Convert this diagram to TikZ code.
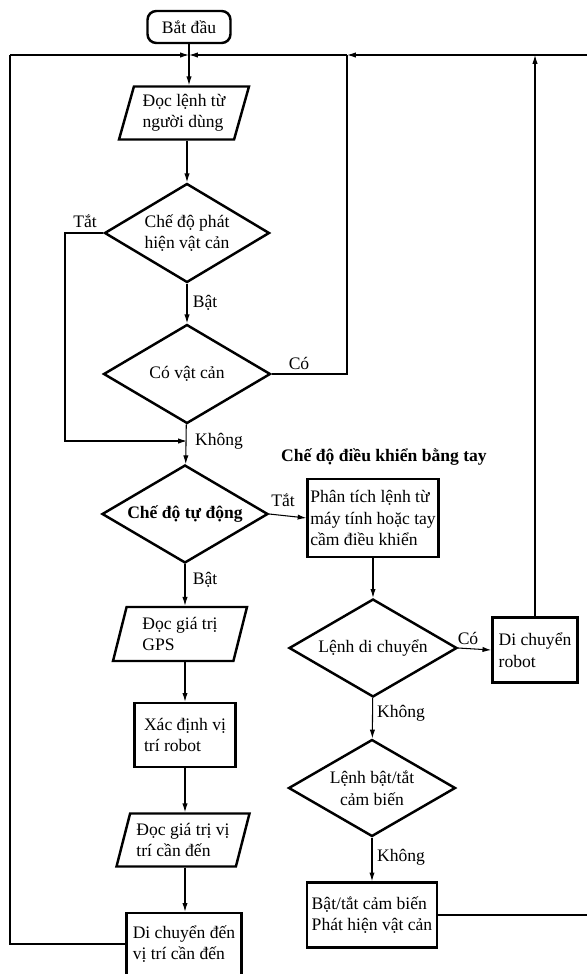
\documentclass[tikz,border=0pt]{standalone}
\usepackage{fontspec}
\setmainfont{Liberation Serif}
\usetikzlibrary{positioning,shapes.geometric,arrows.meta}

\tikzset{
  arr/.style={-{Latex[length=5pt,width=3pt]}},
  startbox/.style={draw, line width=1.4pt, rounded corners=5pt, minimum width=1.66cm, minimum height=0.64cm, inner sep=1pt},
  iobox/.style={draw, line width=1.4pt, trapezium, trapezium left angle=70, trapezium right angle=110, trapezium stretches body, align=left, inner sep=1pt},
  procbox/.style={draw, line width=1.4pt, rectangle, align=left, inner sep=1.5pt},
  decision/.style={draw, line width=1.4pt, diamond, aspect=1.7, align=center, inner sep=0pt},
  lbl/.style={inner sep=1pt}
}

\begin{document}
\begin{tikzpicture}[x=0.02cm, y=-0.02cm, line width=0.6pt, font=\fontsize{10}{12.2}\selectfont]
    \useasboundingbox (0,0) rectangle (587,974);

    % automatic branch
    \node[startbox] (start) at (189,27) {Bắt đầu};
    \node[iobox, minimum width=2.6cm, minimum height=1.06cm] (readcmd) at (184,113) {Đọc lệnh từ\\người dùng};
    \node[decision, minimum width=3.3cm, minimum height=1.98cm] (detect) at (187,233) {Chế độ phát\\hiện vật cản};
    \node[decision, minimum width=3.34cm, minimum height=1.98cm] (obstacle) at (187,374) {Có vật cản};
    \node[decision, minimum width=3.32cm, minimum height=1.96cm, font=\fontsize{10}{12.2}\selectfont\bfseries] (auto) at (185,514) {Chế độ tự động};
    \node[iobox, minimum width=2.68cm, minimum height=1.08cm] (gps) at (180,634) {Đọc giá trị\\GPS};
    \node[procbox, minimum width=2.02cm, minimum height=1.28cm] (locate) at (185,735) {Xác định vị\\trí robot};
    \node[iobox, minimum width=2.66cm, minimum height=1.06cm] (target) at (183,840) {Đọc giá trị vị\\trí cần đến};
    \node[procbox, minimum width=2.3cm, minimum height=1.24cm] (goto) at (184,944) {Di chuyển đến\\vị trí cần đến};

    % manual branch
    \node[font=\fontsize{10}{12.2}\selectfont\bfseries] (manual) at (384,457) {Chế độ điều khiển bằng tay};
    \node[procbox, minimum width=2.6cm, minimum height=1.56cm] (parse) at (373,518) {Phân tích lệnh từ\\máy tính hoặc tay\\cầm điều khiển};
    \node[decision, minimum width=3.36cm, minimum height=1.96cm] (movecmd) at (373,648) {Lệnh di chuyển};
    \node[procbox, minimum width=1.7cm, minimum height=1.3cm] (moverobot) at (535,650) {Di chuyển\\robot};
    \node[decision, minimum width=3.34cm, minimum height=1.94cm] (sensorcmd) at (372,788) {Lệnh bật/tắt\\cảm biến};
    \node[procbox, minimum width=2.6cm, minimum height=1.3cm] (sensor) at (372,915) {Bật/tắt cảm biến\\Phát hiện vật cản};

    % labels
    \node[lbl] (l1) at (85,221) {Tắt};
    \node[lbl] (l2) at (205,303) {Bật};
    \node[lbl] (l3) at (299,363) {Có};
    \node[lbl] (l4) at (219,441) {Không};
    \node[lbl] (l5) at (283,500) {Tắt};
    \node[lbl] (l6) at (205,580) {Bật};
    \node[lbl] (l7) at (468,638) {Có};
    \node[lbl] (l8) at (401,713) {Không};
    \node[lbl] (l9) at (401,857) {Không};

    % loop coordinates
    \coordinate (topL) at (10,55);
    \coordinate (topJ) at (189,55);
    \coordinate (topC) at (347,55);
    \coordinate (topR) at (587,55);
    \coordinate (tatL) at (65,441);
    \coordinate (noJ) at (187,441);

    % connectors
    \draw[arr] (start.south) -- (start.south |- readcmd.north);
    \draw[arr] (detect.north |- readcmd.south) -- (detect.north);
    \draw[arr] (detect) -- (obstacle);
    \draw[arr] (obstacle) -- (auto);
    \draw[arr] (detect.west) -| (tatL) -- (noJ);
    \draw (obstacle.east) -| (topC);
    \draw[arr] (auto.south) -- (auto.south |- gps.north);
    \draw[arr] (locate.north |- gps.south) -- (locate.north);
    \draw[arr] (locate.south) -- (locate.south |- target.north);
    \draw[arr] (locate.south |- target.south) -- (locate.south |- goto.north);
    \draw (goto.west) -| (topL);
    \draw[arr] (topL) -- (topJ);
    \draw[arr] (topR) -- (topC);
    \draw[arr] (topC) -- (topJ);

    \draw[arr] (auto.east) -- (parse.west);
    \draw[arr] (parse) -- (movecmd);
    \draw[arr] (movecmd.east) -- (moverobot.west);
    \draw[arr] (moverobot.north) -- (moverobot.north |- topR);
    \draw[arr] (movecmd) -- (sensorcmd);
    \draw[arr] (sensorcmd) -- (sensor);
    \draw (sensor.east) -- (sensor.east -| topR);
\end{tikzpicture}
\end{document}
